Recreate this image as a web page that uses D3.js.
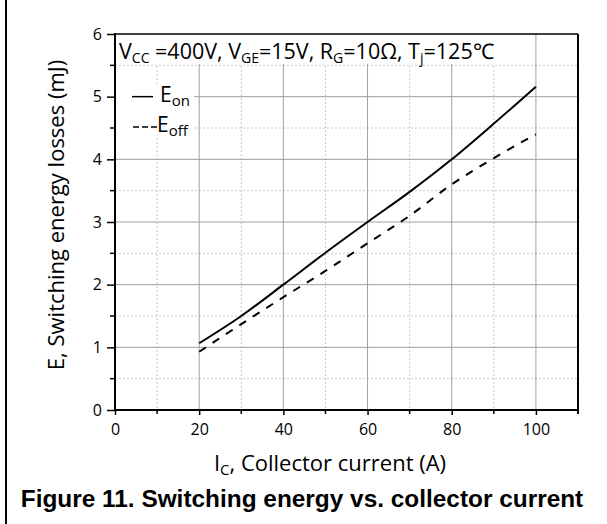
<!DOCTYPE html>
<html><head><meta charset="utf-8">
<script src="https://cdn.jsdelivr.net/npm/d3@7"></script>
<style>body{margin:0;background:#fff}svg{display:block}</style>
</head><body>
<svg id="c" width="607" height="524"></svg>
<script>
const current = [20, 30, 40, 50, 60, 70, 80, 90, 100];
const eon  = [1.065, 1.50, 2.00, 2.51, 3.00, 3.48, 4.00, 4.57, 5.16];
const eoff = [0.93, 1.37, 1.80, 2.22, 2.66, 3.10, 3.60, 4.02, 4.40];
const xTicks = [0, 20, 40, 60, 80, 100];
const xMinor = [10, 30, 50, 70, 90, 110];
const yTicks = [0, 1, 2, 3, 4, 5, 6];
const yMinor = [0.5, 1.5, 2.5, 3.5, 4.5, 5.5];

const svg = d3.select("#c");
const F = "'Open Sans', sans-serif";
const L = 115, R = 578, T = 34, B = 410;
const x = d3.scaleLinear().domain([0, 110]).range([L, R]);
const y = d3.scaleLinear().domain([0, 6]).range([B, T]);

// page left border
svg.append("line").attr("x1",6).attr("x2",6).attr("y1",0).attr("y2",524).attr("stroke","#000").attr("stroke-width",2);

// grid
const g = svg.append("g");
g.selectAll(".mx").data(xMinor.filter(d=>d<110)).join("line")
  .attr("x1",d=>x(d)).attr("x2",d=>x(d)).attr("y1",T).attr("y2",B)
  .attr("stroke","#c8c8c8").attr("stroke-dasharray","2,2");
g.selectAll(".my").data(yMinor).join("line")
  .attr("y1",d=>y(d)).attr("y2",d=>y(d)).attr("x1",L).attr("x2",R)
  .attr("stroke","#c8c8c8").attr("stroke-dasharray","2,2");
g.selectAll(".Mx").data(xTicks.filter(d=>d>0)).join("line")
  .attr("x1",d=>x(d)).attr("x2",d=>x(d)).attr("y1",T).attr("y2",B)
  .attr("stroke","#a0a0a0").attr("stroke-width",1);
g.selectAll(".My").data(yTicks.filter(d=>d>0&&d<6)).join("line")
  .attr("y1",d=>y(d)).attr("y2",d=>y(d)).attr("x1",L).attr("x2",R)
  .attr("stroke","#a0a0a0").attr("stroke-width",1);

// white boxes behind annotation and legend
svg.append("rect").attr("x",L+1).attr("y",T+1).attr("width",390).attr("height",29).attr("fill","#fff");
svg.append("rect").attr("x",L+1).attr("y",84).attr("width",78).attr("height",51).attr("fill","#fff");

// curves
const line = d3.line().x(d=>x(d[0])).y(d=>y(d[1])).curve(d3.curveMonotoneX);
svg.append("path").datum(current.map((c,i)=>[c,eon[i]])).attr("d",line)
  .attr("fill","none").attr("stroke","#000").attr("stroke-width",2);
svg.append("path").datum(current.map((c,i)=>[c,eoff[i]])).attr("d",line)
  .attr("fill","none").attr("stroke","#000").attr("stroke-width",2).attr("stroke-dasharray","8,8");

// axes
const xAx = svg.append("g").attr("transform",`translate(0,${B})`)
  .call(d3.axisBottom(x).tickValues(xTicks).tickSize(5).tickSizeOuter(0).tickFormat(d3.format("d")));
xAx.select(".domain").remove();
xAx.selectAll("text").attr("font-family",F).attr("font-size",16).attr("fill","#000").attr("dy","1.05em");
xAx.selectAll("line").attr("stroke-width",1.5);
svg.append("g").attr("transform",`translate(0,${B})`).selectAll("line").data(xMinor).join("line")
  .attr("x1",d=>x(d)).attr("x2",d=>x(d)).attr("y1",0).attr("y2",4).attr("stroke","#000").attr("stroke-width",1.5);

const yAx = svg.append("g").attr("transform",`translate(${L},0)`)
  .call(d3.axisLeft(y).tickValues(yTicks).tickSize(8).tickSizeOuter(0).tickFormat(d3.format("d")));
yAx.select(".domain").remove();
yAx.selectAll("text").attr("font-family",F).attr("font-size",16).attr("fill","#000").attr("x",-13);
yAx.selectAll("line").attr("stroke-width",1.5);
svg.append("g").attr("transform",`translate(${L},0)`).selectAll("line").data(yMinor).join("line")
  .attr("y1",d=>y(d)).attr("y2",d=>y(d)).attr("x1",-5).attr("x2",0).attr("stroke","#000").attr("stroke-width",1.5);

// frame
svg.append("line").attr("x1",L).attr("x2",L).attr("y1",T-1).attr("y2",B+1).attr("stroke","#000").attr("stroke-width",2);
svg.append("line").attr("x1",L-1).attr("x2",R+1).attr("y1",B).attr("y2",B).attr("stroke","#000").attr("stroke-width",2);
svg.append("line").attr("x1",L).attr("x2",R).attr("y1",T).attr("y2",T).attr("stroke","#000").attr("stroke-width",1.5);
svg.append("line").attr("x1",R).attr("x2",R).attr("y1",T).attr("y2",B+4).attr("stroke","#000").attr("stroke-width",2);

function sub(t, parts, subSize){
  parts.forEach(p=>{
    if(p[1]) t.append("tspan").text(p[0]).attr("font-size",subSize).attr("dy",4);
    else t.append("tspan").text(p[0]).attr("dy",p[2]||0);
  });
}
// annotation
const ann = svg.append("text").attr("x",119).attr("y",59).attr("font-family",F).attr("font-size",21.5).attr("fill","#000");
sub(ann, [["V"],["CC",1],[" =400V, V",0,-4],["GE",1],["=15V, R",0,-4],["G",1],["=10Ω, T",0,-4],["j",1],["=125℃",0,-4]], 14);

// legend
svg.append("line").attr("x1",132).attr("x2",153).attr("y1",y(5)).attr("y2",y(5)).attr("stroke","#000").attr("stroke-width",1.5);
const le1 = svg.append("text").attr("x",160).attr("y",101.5).attr("font-family",F).attr("font-size",21);
sub(le1, [["E"],["on",1]], 15);
svg.append("line").attr("x1",133).attr("x2",157).attr("y1",127).attr("y2",127).attr("stroke","#000").attr("stroke-width",1.5).attr("stroke-dasharray","6,3");
const le2 = svg.append("text").attr("x",157).attr("y",131.5).attr("font-family",F).attr("font-size",21);
sub(le2, [["E"],["off",1]], 15);

// axis titles
const xt = svg.append("text").attr("x",330).attr("y",471).attr("text-anchor","middle").attr("font-family",F).attr("font-size",22);
sub(xt, [["I"],["C",1],[", Collector current (A)",0,-4]], 15);
svg.append("text").attr("transform",`translate(64,215) rotate(-90)`).attr("text-anchor","middle")
  .attr("font-family",F).attr("font-size",22).text("E, Switching energy losses (mJ)");

// caption
svg.append("text").attr("x",302).attr("y",507).attr("text-anchor","middle").attr("font-family","'Liberation Sans', Arial, sans-serif")
  .attr("font-weight","bold").attr("font-size",24.4).text("Figure 11. Switching energy vs. collector current");
</script>
</body></html>
